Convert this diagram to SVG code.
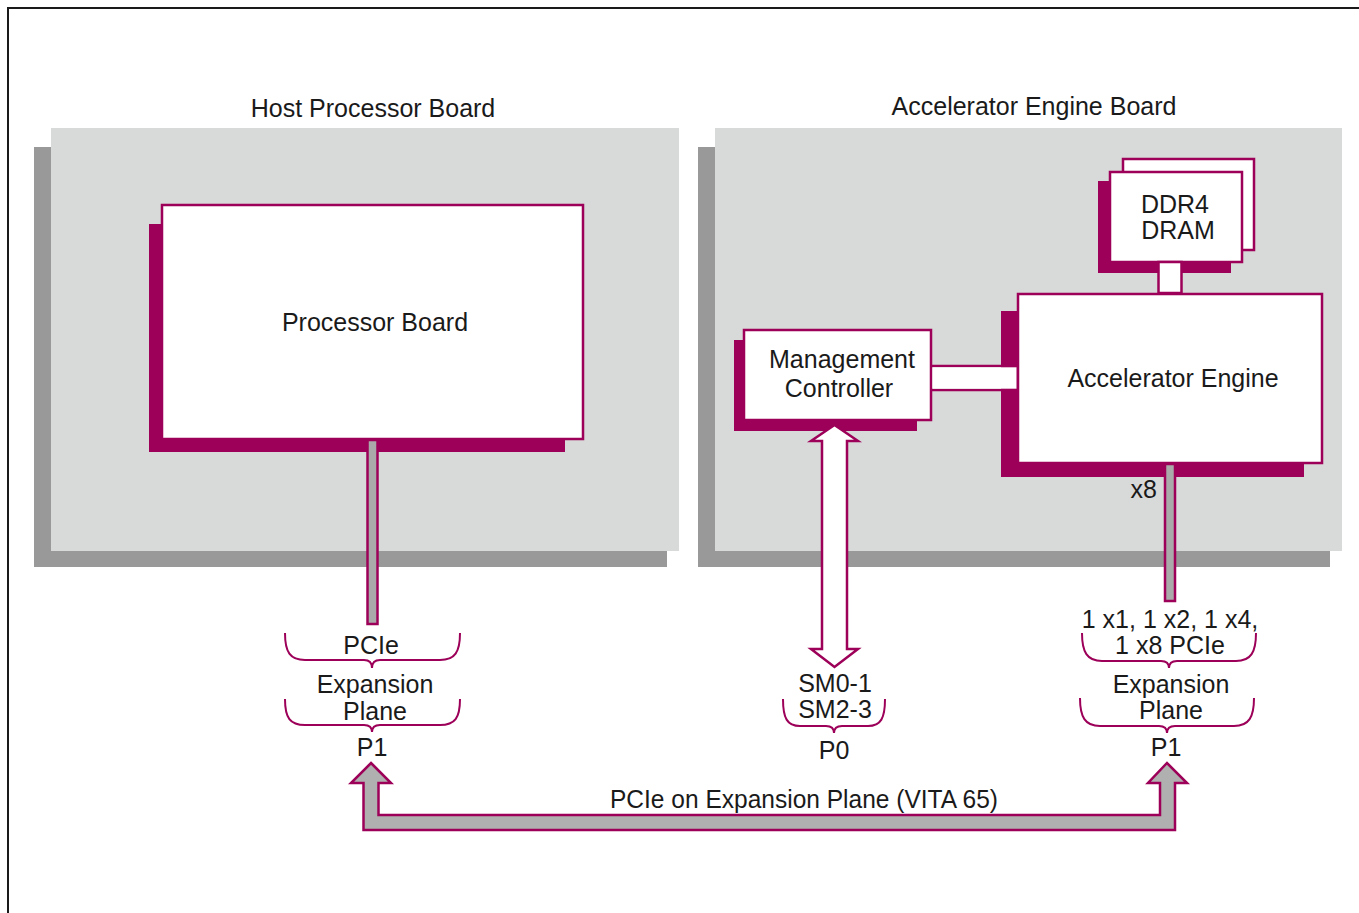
<svg xmlns="http://www.w3.org/2000/svg" width="1359" height="913" viewBox="0 0 1359 913">
<style>
.t{font-family:"Liberation Sans",Arial,sans-serif;font-size:25px;fill:#1a1a1a;text-anchor:middle}
.bg{fill:#d8d9d9}
.sh{fill:#999999}
.ms{fill:#9c0058}
.box{fill:#ffffff;stroke:#9c0058;stroke-width:2.5}
.br{fill:none;stroke:#9c0058;stroke-width:2}
.bar{fill:#aaaaaa;stroke:#9c0058;stroke-width:2.5}
.wc{fill:#ffffff;stroke:#9c0058;stroke-width:2.5}
</style>
<rect x="0" y="0" width="1359" height="913" fill="#ffffff"/>
<rect x="8" y="8" width="1400" height="1000" fill="none" stroke="#1a1a1a" stroke-width="2"/>

<g id="host-board">
<rect class="sh" x="34" y="147" width="633" height="420"/>
<rect class="bg" x="51" y="128" width="628" height="423"/>
<text class="t" x="373" y="117">Host Processor Board</text>
</g>

<g id="accel-board">
<rect class="sh" x="698" y="147" width="632" height="420"/>
<rect class="bg" x="715" y="128" width="627" height="423"/>
<text class="t" x="1034" y="115">Accelerator Engine Board</text>
</g>

<g id="processor-board">
<rect class="ms" x="149" y="224" width="416" height="228"/>
<rect class="box" x="162" y="205" width="421" height="234"/>
<text class="t" x="375" y="331">Processor Board</text>
</g>

<g id="ddr4-dram">
<rect class="box" x="1123" y="159" width="131" height="91"/>
<rect class="ms" x="1098" y="181" width="133" height="92"/>
<rect class="box" x="1110" y="172" width="132" height="90"/>
<text class="t" x="1175" y="213">DDR4</text>
<text class="t" x="1178" y="239">DRAM</text>
</g>

<g id="management-controller">
<rect class="ms" x="734" y="340" width="183" height="91"/>
<rect class="box" x="744" y="330" width="187" height="90"/>
<text class="t" x="842" y="368">Management</text>
<text class="t" x="839" y="397">Controller</text>
</g>

<g id="accelerator-engine">
<rect class="ms" x="1001" y="311" width="303" height="166"/>
<rect class="box" x="1018" y="294" width="304" height="169"/>
<text class="t" x="1173" y="387">Accelerator Engine</text>
</g>

<g id="connectors">
<rect class="bar" x="367.5" y="440" width="10" height="184"/>
<rect class="bar" x="1165" y="464" width="10" height="137"/>
<rect class="wc" x="1158.5" y="262" width="23" height="31"/>
<path d="M931,366 H1017 M931,390 H1017" stroke="#9c0058" stroke-width="2.5" fill="none"/>
<rect x="932.5" y="367.3" width="84" height="21.4" fill="#ffffff"/>
<path class="wc" d="M834.5,425 L858,441 L847,441 L847,649 L858,649 L834.5,667 L811,649 L822,649 L822,441 L811,441 Z"/>
<path d="M371,763 L391,783 L378.5,783 L378.5,815 L1160,815 L1160,783 L1148,783 L1167,763 L1187,783 L1175,783 L1175,830 L363.5,830 L363.5,783 L351,783 Z" fill="#b0b0b0" stroke="#9c0058" stroke-width="2.5"/>
<text class="t" x="1157" y="498" style="text-anchor:end">x8</text>
</g>

<g id="left-p1">
<path class="br" d="M285,633 C285,652 290,660 305,660 L364,660 C369,660 372,662 372,668 C372,662 375,660 380,660 L440,660 C455,660 460,652 460,633"/>
<path class="br" d="M285,699 C285,718 290,725 305,725 L364,725 C369,725 372,727 372,732 C372,727 375,725 380,725 L440,725 C455,725 460,718 460,699"/>
<text class="t" x="371" y="654">PCIe</text>
<text class="t" x="375" y="693">Expansion</text>
<text class="t" x="375" y="720">Plane</text>
<text class="t" x="372" y="756">P1</text>
</g>

<g id="p0">
<path class="br" d="M783,699 C783,718 787,726 800,726 L826,726 C831,726 834,728 834,733 C834,728 837,726 842,726 L868,726 C881,726 885,718 885,699"/>
<text class="t" x="835" y="692">SM0-1</text>
<text class="t" x="835" y="718">SM2-3</text>
<text class="t" x="834" y="759">P0</text>
</g>

<g id="right-p1">
<path class="br" d="M1082,633 C1082,652 1087,661 1102,661 L1161,661 C1166,661 1169,663 1169,668 C1169,663 1172,661 1177,661 L1236,661 C1251,661 1256,652 1256,633"/>
<path class="br" d="M1080,698 C1080,717 1085,726 1100,726 L1159,726 C1164,726 1167,728 1167,733 C1167,728 1170,726 1175,726 L1234,726 C1249,726 1254,717 1254,698"/>
<text class="t" x="1170" y="628">1 x1, 1 x2, 1 x4,</text>
<text class="t" x="1170" y="654">1 x8 PCIe</text>
<text class="t" x="1171" y="693">Expansion</text>
<text class="t" x="1171" y="719">Plane</text>
<text class="t" x="1166" y="756">P1</text>
</g>

<text class="t" x="804" y="808" textLength="388" lengthAdjust="spacingAndGlyphs">PCIe on Expansion Plane (VITA 65)</text>
</svg>
